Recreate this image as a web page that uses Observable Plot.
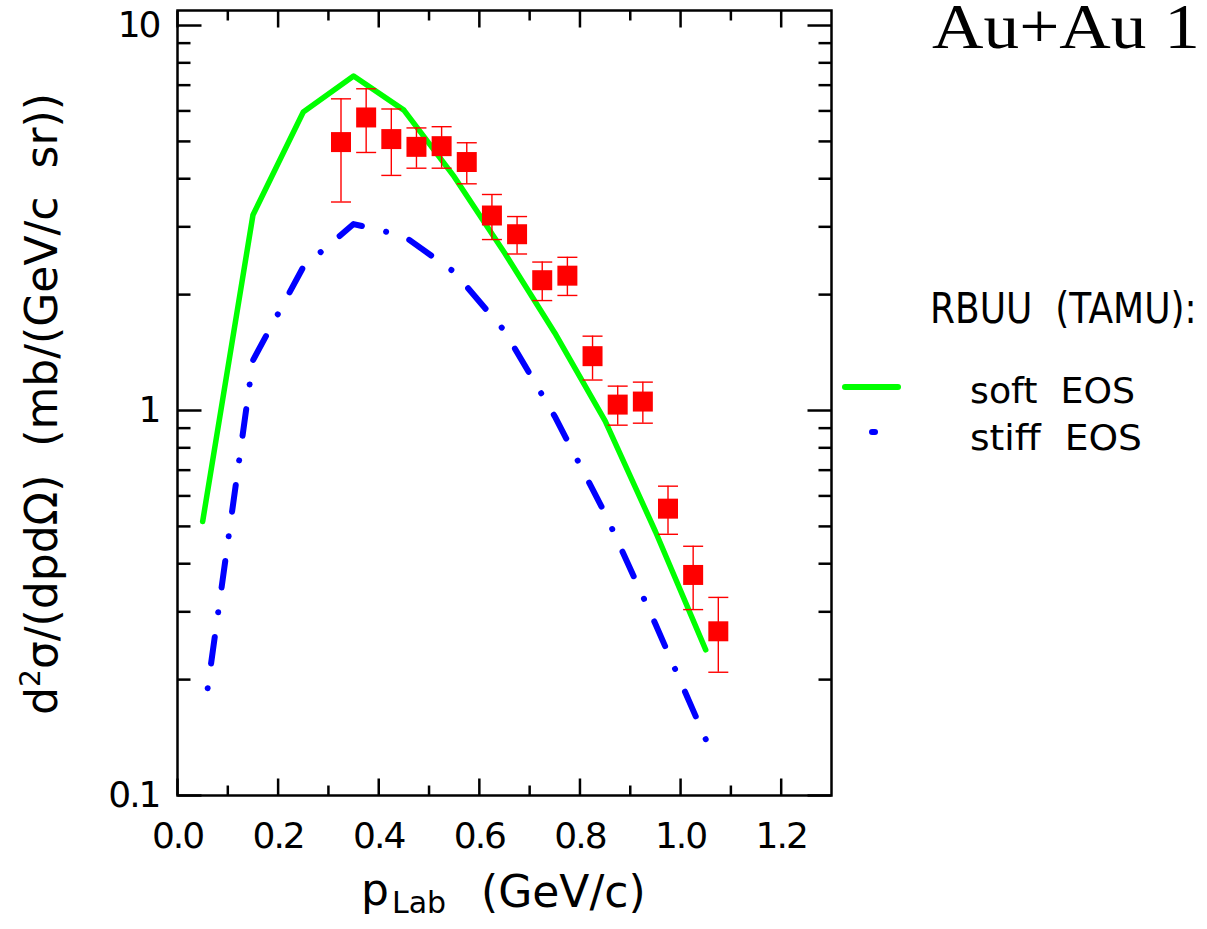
<!DOCTYPE html>
<html><head><meta charset="utf-8">
<script src="https://cdn.jsdelivr.net/npm/d3@7"></script>
<script src="https://cdn.jsdelivr.net/npm/@observablehq/plot@0.6"></script>
<style>html,body{margin:0;padding:0;background:#fff;overflow:hidden}</style>
</head><body><div id="chart"></div>
<script>
// ---- data ----
const momentum = [0.325, 0.375, 0.425, 0.475, 0.525, 0.575, 0.625, 0.675, 0.725, 0.775, 0.825, 0.875, 0.925, 0.975, 1.025, 1.075];
const crossSection = [4.98, 5.77, 5.07, 4.84, 4.86, 4.42, 3.21, 2.87, 2.18, 2.24, 1.384, 1.036, 1.055, 0.556, 0.374, 0.267];
const errHigh = [6.45, 6.85, 6.07, 5.42, 5.46, 4.96, 3.64, 3.19, 2.43, 2.50, 1.56, 1.157, 1.185, 0.636, 0.444, 0.327];
const errLow = [3.48, 4.68, 4.08, 4.26, 4.26, 3.88, 2.78, 2.55, 1.93, 1.99, 1.20, 0.916, 0.927, 0.477, 0.304, 0.209];

const softP = [0.05, 0.15, 0.25, 0.35, 0.45, 0.55, 0.65, 0.75, 0.85, 0.95, 1.05];
const softEOS = [0.515, 3.22, 5.96, 7.39, 6.03, 4.05, 2.57, 1.59, 0.94, 0.485, 0.239];
const stiffP = [0.06, 0.15, 0.25, 0.35, 0.45, 0.55, 0.65, 0.75, 0.85, 0.95, 1.05];
const stiffEOS = [0.19, 1.35, 2.36, 3.05, 2.84, 2.29, 1.61, 0.965, 0.54, 0.279, 0.14];

const xMajor = [0, 0.2, 0.4, 0.6, 0.8, 1.0, 1.2];
const xMinor = [0.1, 0.3, 0.5, 0.7, 0.9, 1.1];
const yMajor = [0.1, 1, 10];
const yMinor = [0.2, 0.3, 0.4, 0.5, 0.6, 0.7, 0.8, 0.9, 2, 3, 4, 5, 6, 7, 8, 9];
const yTickLabels = ["0.1", "1", "10"];
const xDomain = [0, 1.3];
const yDomain = [0.1, 10.94];

// ---- build ----
const points = momentum.map((p, i) => ({p, v: crossSection[i], lo: errLow[i], hi: errHigh[i]}));
const soft = softP.map((p, i) => ({p, v: softEOS[i]}));
const stiff = stiffP.map((p, i) => ({p, v: stiffEOS[i]}));

// custom symbols: error-bar caps and inward tick marks
const capSymbol = {draw(ctx) { ctx.moveTo(-10, 0); ctx.lineTo(10, 0); }};
const tickSym = (dx, dy) => ({draw(ctx) { ctx.moveTo(0, 0); ctx.lineTo(dx, dy); }});
const tickStyle = {fill: "none", stroke: "#000", strokeWidth: 2.5};

const FONT = "DejaVu Sans";
const DASH = [0.01, 25, 27, 25];

const plot = Plot.plot({
  width: 1207, height: 929,
  marginLeft: 177, marginRight: 376, marginTop: 10, marginBottom: 134,
  style: {fontFamily: FONT, fontSize: "36px", background: "#fff", color: "#000"},
  x: {type: "linear", domain: xDomain, axis: null, label: null},
  y: {type: "log", domain: yDomain, axis: null, label: null},
  marks: [
    Plot.line(soft, {x: "p", y: "v", stroke: "#00ff00", strokeWidth: 5.5, strokeLinecap: "round"}),
    Plot.line(stiff, {x: "p", y: "v", stroke: "#0000ff", strokeWidth: 6, strokeLinecap: "round", strokeDasharray: DASH.join(",")}),
    Plot.ruleX(points, {x: "p", y1: "lo", y2: "hi", stroke: "#ff0000", strokeWidth: 1.4}),
    Plot.dot(points, {x: "p", y: "lo", symbol: capSymbol, fill: "none", stroke: "#ff0000", strokeWidth: 1.4}),
    Plot.dot(points, {x: "p", y: "hi", symbol: capSymbol, fill: "none", stroke: "#ff0000", strokeWidth: 1.4}),
    Plot.dot(points, {x: "p", y: "v", symbol: "square", r: 11.28, fill: "#ff0000", stroke: "none"}),
    // inward ticks on all four sides
    Plot.dot(yMajor, {x: () => xDomain[0], y: d => d, symbol: tickSym(24, 0), ...tickStyle}),
    Plot.dot(yMinor, {x: () => xDomain[0], y: d => d, symbol: tickSym(13, 0), ...tickStyle}),
    Plot.dot(yMajor, {x: () => xDomain[1], y: d => d, symbol: tickSym(-24, 0), ...tickStyle}),
    Plot.dot(yMinor, {x: () => xDomain[1], y: d => d, symbol: tickSym(-13, 0), ...tickStyle}),
    Plot.dot(xMajor, {x: d => d, y: () => yDomain[0], symbol: tickSym(0, -17), ...tickStyle}),
    Plot.dot(xMinor, {x: d => d, y: () => yDomain[0], symbol: tickSym(0, -10), ...tickStyle}),
    Plot.dot(xMajor, {x: d => d, y: () => yDomain[1], symbol: tickSym(0, 17), ...tickStyle}),
    Plot.dot(xMinor, {x: d => d, y: () => yDomain[1], symbol: tickSym(0, 10), ...tickStyle}),
    // tick labels
    Plot.text(yMajor, {y: d => d, frameAnchor: "left", dx: -18, textAnchor: "end",
      text: (d, i) => yTickLabels[i], fontSize: 36, fill: "#000"}),
    Plot.text(xMajor, {x: d => d, y: () => yDomain[0], dy: 41, textAnchor: "middle",
      text: d => d3.format(".1f")(d), fontSize: 36, fill: "#000"}),
    Plot.frame({stroke: "#000", strokeWidth: 2.5})
  ]
});
document.getElementById("chart").appendChild(plot);

const svg = d3.select(plot);

// stretch the dash-dot period slightly so the stiff curve starts and ends on a dot
svg.selectAll("path").each(function() {
  const cs = getComputedStyle(this);
  if (cs.stroke !== "rgb(0, 0, 255)") return;
  const L = this.getTotalLength();
  const P = d3.sum(DASH);
  const n = Math.max(1, Math.round(L / P));
  const k = (L - 0.1 - n * DASH[0]) / (n * (P - DASH[0]));
  const arr = DASH.map((d, i) => i === 0 ? d : d * k).join(",");
  this.setAttribute("stroke-dasharray", arr);
  this.style.strokeDasharray = arr;
});

svg.selectAll("text").filter(function() { return /^[0-9.]+$/.test(this.textContent); })
  .style("letter-spacing", "-2px");

// ---- annotations: title, axis labels, legend ----
const label = (x, y, size, str) => svg.append("text").attr("x", x).attr("y", y)
  .attr("font-size", size).attr("text-anchor", "start").attr("fill", "#000")
  .style("white-space", "pre").text(str);

label(932, 48, 63, "Au+Au 1")
  .attr("font-family", "Liberation Serif, 'Times New Roman', serif")
  .attr("textLength", 268).attr("lengthAdjust", "spacingAndGlyphs");

// y-axis label
const yl = svg.append("text").attr("transform", "translate(57,404) rotate(-90)")
  .attr("text-anchor", "middle").attr("font-size", 44).attr("fill", "#000").style("white-space", "pre");
yl.append("tspan").text("d");
yl.append("tspan").attr("font-size", 28).attr("dy", -17).text("2");
yl.append("tspan").attr("dy", 17).text("σ/(dpdΩ)  (mb/(GeV/c  sr))");

// x-axis label
label(361, 905, 44, "p");
label(392, 913, 30, "Lab");
label(481, 907, 44, "(GeV/c)");

// legend
svg.append("text").attr("transform", "translate(930,323) scale(1,1.18)")
  .attr("font-size", 36).attr("text-anchor", "start").attr("fill", "#000")
  .style("white-space", "pre").text("RBUU  (TAMU):");
svg.append("line").attr("x1", 845).attr("x2", 898).attr("y1", 387).attr("y2", 387)
  .attr("stroke", "#00ff00").attr("stroke-width", 6).attr("stroke-linecap", "round");
label(970, 403, 36, "soft  EOS").attr("textLength", 165).attr("lengthAdjust", "spacingAndGlyphs");
svg.append("line").attr("x1", 872).attr("x2", 875).attr("y1", 432).attr("y2", 432)
  .attr("stroke", "#0000ff").attr("stroke-width", 6).attr("stroke-linecap", "round");
label(970, 450, 36, "stiff  EOS").attr("textLength", 172).attr("lengthAdjust", "spacingAndGlyphs");
</script>
</body></html>
